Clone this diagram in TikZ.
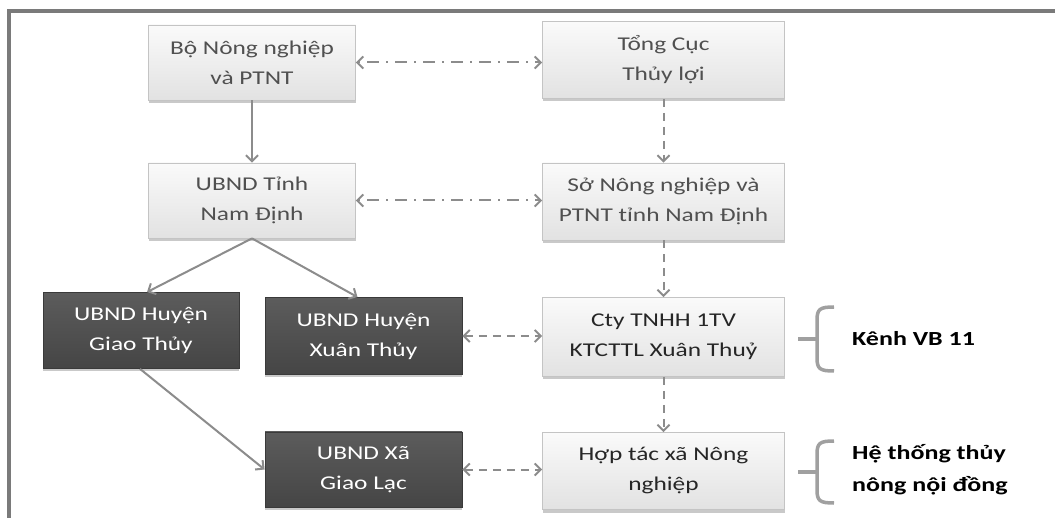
\documentclass[tikz,border=0pt]{standalone}
\usepackage{fontspec}
\setmainfont{Carlito}
\newfontfamily\boxfont{Carlito}[FakeStretch=1.3]
\usetikzlibrary{arrows.meta,shadows}
\definecolor{framegray}{HTML}{7A7A7A}
\definecolor{arrowgray}{HTML}{8C8C8C}
\definecolor{lighttop}{HTML}{FAFAFA}
\definecolor{lightbot}{HTML}{E2E2E2}
\definecolor{lightedge}{HTML}{C4C4C4}
\definecolor{darktop}{HTML}{5C5C5C}
\definecolor{darkbot}{HTML}{454545}
\definecolor{darkedge}{HTML}{3A3A3A}
\definecolor{softtext}{HTML}{505050}
\definecolor{strongtext}{HTML}{262626}
\definecolor{bracegray}{HTML}{A0A0A0}
\tikzset{
  basebox/.style={rectangle, align=center, inner sep=0pt,
    font=\boxfont\fontsize{19.5}{30}\selectfont,
    drop shadow={shadow xshift=0pt, shadow yshift=-3pt, opacity=0.35, fill=black!60}},
  lightbox/.style={basebox, draw=lightedge, line width=0.8pt, top color=lighttop, bottom color=lightbot, text=softtext},
  lightboxb/.style={lightbox, text=strongtext},
  darkbox/.style={basebox, draw=darkedge, line width=0.8pt, top color=darktop, bottom color=darkbot, text=white},
  >={Straight Barb[length=6pt,width=12pt]},
  conn/.style={draw=arrowgray, line width=2pt},
  solidarrow/.style={conn, ->},
  dasharrow/.style={conn, ->, dash pattern=on 8pt off 6pt},
  dashboth/.style={conn, <->, dash pattern=on 8pt off 6pt},
  dashdotboth/.style={conn, <->, dash pattern=on 2pt off 7pt on 12pt off 7pt},
  bracestyle/.style={draw=bracegray, line width=3.5pt},
  sidelabel/.style={anchor=west, align=left, inner sep=0pt,
    font=\boxfont\bfseries\fontsize{20}{32}\selectfont, text=black}
}
\begin{document}
\begin{tikzpicture}[x=1pt,y=-1pt]
\useasboundingbox (0,0) rectangle (1055,518);
\fill[white] (0,0) rectangle (1055,518);
\draw[framegray, line width=3.5pt] (9,520) -- (9,11) -- (1057,11);

\node[lightbox, minimum width=207pt, minimum height=75pt] (bo) at (252,62.5) {Bộ Nông nghiệp\\và PTNT};
\node[lightbox, minimum width=242pt, minimum height=77pt] (tong) at (663.5,60) {Tổng Cục\\Thủy lợi};
\node[lightbox, minimum width=207pt, minimum height=75pt] (tinh) at (252,200.5) {UBND Tỉnh\\Nam Định};
\node[lightbox, minimum width=242pt, minimum height=77pt] (so) at (663.5,201.5) {Sở Nông nghiệp và\\PTNT tỉnh Nam Định};
\node[darkbox, minimum width=196pt, minimum height=76pt] (gt) at (141,330.5) {UBND Huyện\\Giao Thủy};
\node[darkbox, minimum width=197pt, minimum height=77pt] (xt) at (363.5,336) {UBND Huyện\\Xuân Thủy};
\node[lightboxb, minimum width=242pt, minimum height=79pt] (cty) at (663.5,337) {Cty TNHH 1TV\\KTCTTL Xuân Thuỷ};
\node[darkbox, minimum width=197pt, minimum height=75pt] (xa) at (363.5,469.5) {UBND Xã\\Giao Lạc};
\node[lightboxb, minimum width=242pt, minimum height=77pt] (htx) at (663.5,471) {Hợp tác xã Nông\\nghiệp};

\node[sidelabel] (kenh) at (852,339) {Kênh VB 11};
\node[sidelabel] (hethong) at (852,470) {Hệ thống thủy\\nông nội đồng};

% connectors
\draw[dashdotboth] (bo.east) -- (bo.east -| tong.west);
\draw[dashdotboth] (tinh.east) -- (tinh.east -| so.west);
\draw[solidarrow] (bo) -- (tinh);
\draw[dasharrow] (tong) -- (so);
\draw[dasharrow] (so) -- (cty);
\draw[dasharrow] (cty) -- (htx);
\draw[solidarrow] (tinh.south) -- ([xshift=6pt]gt.north);
\draw[solidarrow] (tinh.south) -- ([xshift=-6pt]xt.north);
\draw[solidarrow] ([xshift=-1pt]gt.south) -- (xa.west);
\draw[dashboth] (xt.east) -- (xt.east -| cty.west);
\draw[dashboth] (xa.east) -- (xa.east -| htx.west);

% braces
\draw[bracestyle] (798,339) -- (816,339);
\draw[bracestyle] (834,307) .. controls (820,307) and (817,309) .. (817,320) -- (817,358) .. controls (817,369) and (820,371) .. (834,371);
\draw[bracestyle] (798,472) -- (816,472);
\draw[bracestyle] (834,441) .. controls (820,441) and (817,443) .. (817,454) -- (817,490) .. controls (817,501) and (820,503) .. (834,503);
\end{tikzpicture}
\end{document}
